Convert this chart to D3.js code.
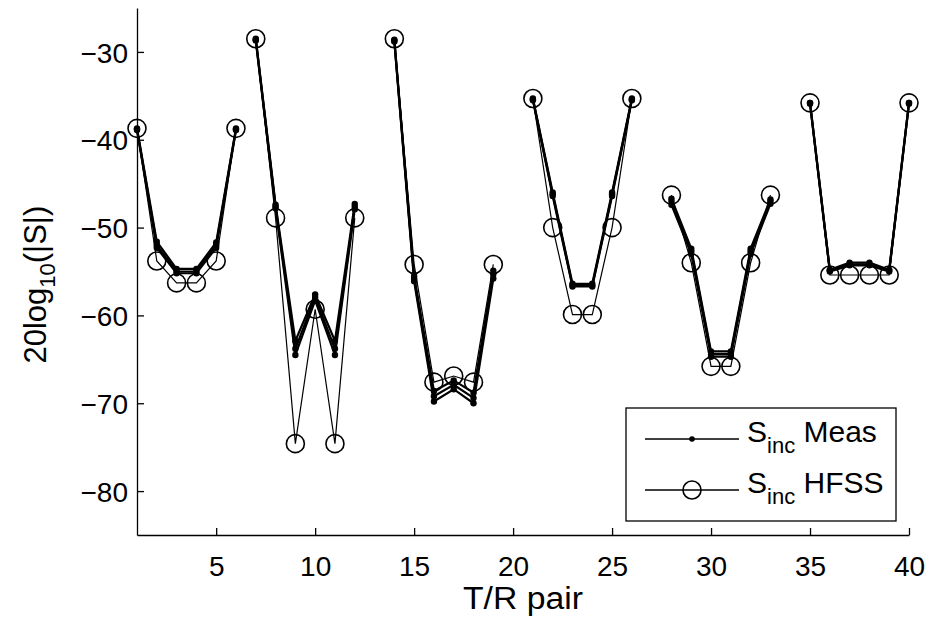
<!DOCTYPE html>
<html lang="en">

<head>
    <meta charset="UTF-8">
    <title>Sinc Meas vs HFSS</title>
    <script src="https://d3js.org/d3.v7.min.js"></script>
    <style>
        body,
        html {
            margin: 0;
            padding: 0;
            background: #fff;
            font-family: "Liberation Sans", Arial, sans-serif;
        }

        .tick-label {
            font-size: 28px;
            fill: #000;
        }
    </style>
</head>

<body>
    <svg width="934" height="625" id="chart"></svg>

    <script>
        // T/R pair index, split in groups (lines break between groups)
        const groups = [
            [1, 2, 3, 4, 5, 6],
            [7, 8, 9, 10, 11, 12],
            [14, 15, 16, 17, 18, 19],
            [21, 22, 23, 24, 25, 26],
            [28, 29, 30, 31, 32, 33],
            [35, 36, 37, 38, 39, 40]
        ];

        // HFSS simulation, one list per group
        const hfss = [
            [-38.7, -53.8, -56.3, -56.3, -53.8, -38.7],
            [-28.5, -48.9, -74.6, -59.3, -74.6, -48.9],
            [-28.5, -54.2, -67.6, -66.9, -67.6, -54.2],
            [-35.3, -50.0, -59.9, -59.9, -50.0, -35.3],
            [-46.3, -54.0, -65.8, -65.8, -54.0, -46.3],
            [-35.8, -55.4, -55.4, -55.4, -55.4, -35.8]
        ];

        // measured curves (several overlapping runs)
        const meas1 = [
            [-38.7, -51.6, -54.7, -54.7, -51.7, -38.7],
            [-28.5, -47.4, -62.9, -57.6, -62.9, -47.3],
            [-28.6, -55.5, -68.6, -67.4, -68.8, -54.9],
            [-35.3, -46.0, -56.4, -56.4, -46.0, -35.3],
            [-46.7, -52.4, -64.1, -64.1, -52.4, -46.8],
            [-35.8, -54.8, -54.0, -54.0, -54.8, -35.8]
        ];
        const meas2 = [
            [-38.8, -52.0, -55.0, -55.0, -52.0, -38.8],
            [-28.6, -47.6, -63.8, -57.9, -63.8, -47.6],
            [-28.7, -55.8, -69.2, -67.9, -69.4, -55.3],
            [-35.4, -46.2, -56.6, -56.6, -46.2, -35.4],
            [-47.0, -52.7, -64.4, -64.4, -52.7, -47.0],
            [-35.8, -54.9, -54.2, -54.2, -54.9, -35.8]
        ];
        const meas3 = [
            [-38.9, -52.3, -55.2, -55.2, -52.3, -38.9],
            [-28.7, -47.8, -64.5, -58.3, -64.5, -47.9],
            [-28.8, -56.1, -69.8, -68.4, -70.0, -55.8],
            [-35.5, -46.4, -56.7, -56.7, -46.4, -35.5],
            [-47.4, -53.0, -64.7, -64.7, -53.0, -47.3],
            [-35.9, -55.0, -54.3, -54.3, -55.0, -35.9]
        ];
        const measRuns = [meas1, meas2, meas3];

        const xTicks = [5, 10, 15, 20, 25, 30, 35, 40];
        const yTicks = [-30, -40, -50, -60, -70, -80];

        const svg = d3.select("#chart");
        const x = d3.scaleLinear().domain([1, 40]).range([137, 909]);
        const y = d3.scaleLinear().domain([-85, -25]).range([535, 8]);

        const line = d3.line()
            .x(d => x(d[0]))
            .y(d => y(d[1]));

        // axes (MATLAB style, ticks inward, no box)
        const xAxis = svg.append("g")
            .attr("transform", `translate(0,${y(-85)})`)
            .call(d3.axisBottom(x).tickValues(xTicks).tickSizeInner(-7).tickSizeOuter(0).tickPadding(16)
                .tickFormat(d3.format("d")));

        const yAxis = svg.append("g")
            .attr("transform", `translate(${x(1)},0)`)
            .call(d3.axisLeft(y).tickValues(yTicks).tickSizeInner(-7).tickSizeOuter(0).tickPadding(9)
                .tickFormat(d => "\u2212" + Math.abs(d)));

        [xAxis, yAxis].forEach(g => {
            g.select(".domain").attr("stroke", "#000").attr("stroke-width", 1.3);
            g.selectAll(".tick line").attr("stroke", "#000").attr("stroke-width", 1.3);
            g.selectAll(".tick text").attr("class", "tick-label")
                .attr("font-family", "Liberation Sans, Arial, sans-serif").attr("font-size", 29);
        });
        xAxis.selectAll(".tick text").attr("dy", "0.9em");
        yAxis.selectAll(".tick text").attr("dy", "0.36em");

        // HFSS: thin lines with open circles
        groups.forEach((g, gi) => {
            const pts = g.map((t, i) => [t, hfss[gi][i]]);
            svg.append("path").datum(pts)
                .attr("d", line).attr("fill", "none").attr("stroke", "#000").attr("stroke-width", 1.2);
            svg.selectAll(null).data(pts).enter().append("circle")
                .attr("cx", d => x(d[0])).attr("cy", d => y(d[1])).attr("r", 9)
                .attr("fill", "none").attr("stroke", "#000").attr("stroke-width", 1.6);
        });

        // measurements: thicker lines with dots
        measRuns.forEach(run => {
            groups.forEach((g, gi) => {
                const pts = g.map((t, i) => [t, run[gi][i]]);
                svg.append("path").datum(pts)
                    .attr("d", line).attr("fill", "none").attr("stroke", "#000").attr("stroke-width", 2.2);
                svg.selectAll(null).data(pts).enter().append("circle")
                    .attr("cx", d => x(d[0])).attr("cy", d => y(d[1])).attr("r", 3.2)
                    .attr("fill", "#000");
            });
        });

        // axis labels
        svg.append("text")
            .attr("x", x(20.5)).attr("y", 609)
            .attr("text-anchor", "middle").attr("font-size", 31)
            .attr("textLength", 120).attr("lengthAdjust", "spacingAndGlyphs")
            .text("T/R pair");

        const yl = svg.append("text")
            .attr("transform", `translate(46,${y(-56.5)}) rotate(-90)`)
            .attr("text-anchor", "middle").attr("font-size", 31);
        yl.append("tspan").text("20log");
        yl.append("tspan").attr("font-size", 22).attr("dy", 9).text("10");
        yl.append("tspan").attr("dy", -9).text("(|S|)");

        // legend
        const lg = svg.append("g");
        lg.append("rect").attr("x", 626).attr("y", 408).attr("width", 270).attr("height", 113)
            .attr("fill", "#fff").attr("stroke", "#000").attr("stroke-width", 1.3);
        const legendItems = [
            { name: "Meas", row: 439, marker: "dot" },
            { name: "HFSS", row: 490, marker: "circle" }
        ];
        legendItems.forEach(it => {
            lg.append("line").attr("x1", 645).attr("x2", 739).attr("y1", it.row).attr("y2", it.row)
                .attr("stroke", "#000").attr("stroke-width", 1.3);
            if (it.marker === "dot") {
                lg.append("circle").attr("cx", 692).attr("cy", it.row).attr("r", 2.8).attr("fill", "#000");
            } else {
                lg.append("circle").attr("cx", 692).attr("cy", it.row).attr("r", 9)
                    .attr("fill", "none").attr("stroke", "#000").attr("stroke-width", 1.6);
            }
            const t = lg.append("text").attr("x", 747).attr("y", it.row + 3).attr("font-size", 30);
            t.append("tspan").text("S");
            t.append("tspan").attr("font-size", 22).attr("dy", 11).text("inc");
            t.append("tspan").attr("dy", -11).text(" " + it.name);
        });
    </script>
</body>

</html>
